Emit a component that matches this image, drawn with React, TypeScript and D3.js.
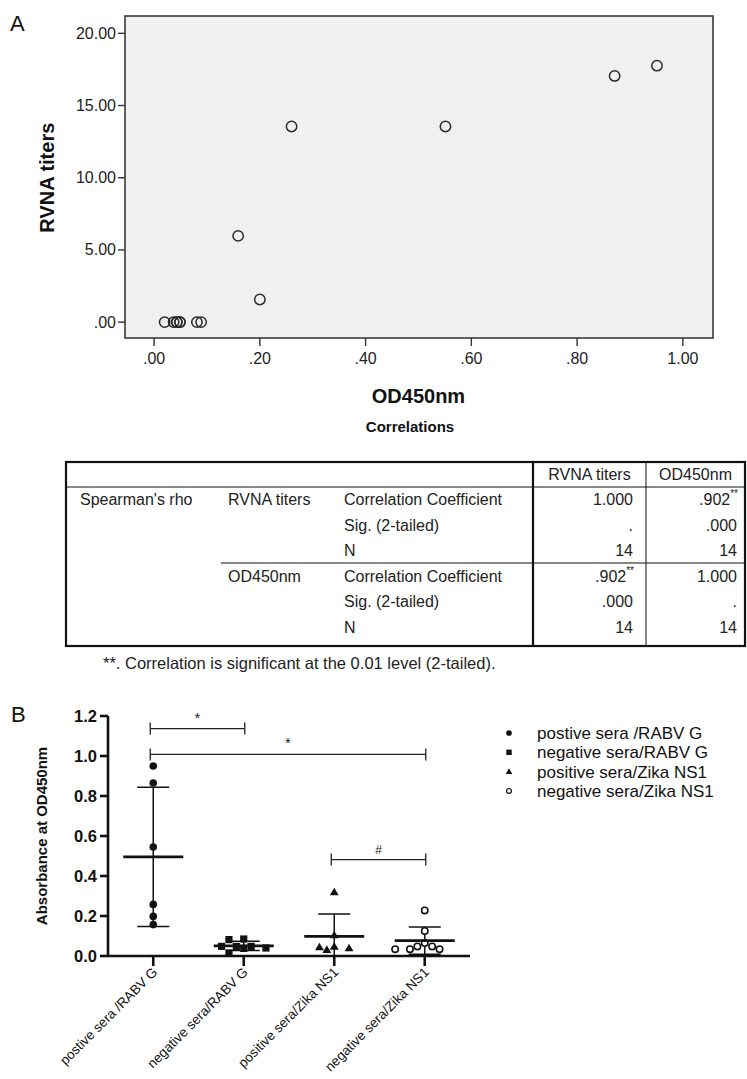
import React from "react";
import * as d3 from "d3";

// ---------- Panel A data ----------
const odValues = [0.02, 0.037, 0.043, 0.043, 0.049, 0.049, 0.081, 0.089, 0.159, 0.2, 0.26, 0.551, 0.871, 0.951];
const rvnaValues = [0, 0, 0, 0, 0, 0, 0, 0, 5.97, 1.57, 13.55, 13.55, 17.05, 17.76];
const scatterXTicks = [0, 0.2, 0.4, 0.6, 0.8, 1.0];
const scatterXTickLabels = [".00", ".20", ".40", ".60", ".80", "1.00"];
const scatterYTicks = [0, 5, 10, 15, 20];
const scatterYTickLabels = [".00", "5.00", "10.00", "15.00", "20.00"];

// ---------- Table data ----------
const tableHeaders = ["RVNA titers", "OD450nm"];
const tableVariables = ["RVNA titers", "OD450nm"];
const tableStats = ["Correlation Coefficient", "Sig. (2-tailed)", "N"];
const tableRVNACol = [["1.000", ""], [".", ""], ["14", ""], [".902", "**"], [".000", ""], ["14", ""]];
const tableODCol = [[".902", "**"], [".000", ""], ["14", ""], ["1.000", ""], [".", ""], ["14", ""]];
const footnote = "**. Correlation is significant at the 0.01 level (2-tailed).";

// ---------- Panel B data ----------
const categories = ["postive sera /RABV G", "negative sera/RABV G", "positive sera/Zika NS1", "negative sera/Zika NS1"];
const legendLabels = ["postive sera /RABV G", "negative sera/RABV G", "positive sera/Zika NS1", "negative sera/Zika NS1"];
const posRabv = [0.95, 0.865, 0.545, 0.258, 0.198, 0.157];
const negRabv = [0.085, 0.082, 0.048, 0.038, 0.04, 0.048, 0.048, 0.015];
const posZika = [0.32, 0.105, 0.045, 0.032, 0.04, 0.048];
const negZika = [0.228, 0.125, 0.048, 0.034, 0.034, 0.034, 0.048, 0.065];
const groupValues = [posRabv, negRabv, posZika, negZika];
const symbolKinds = ["circle", "square", "triangle", "open"];
const bYTicks = [0, 0.2, 0.4, 0.6, 0.8, 1.0, 1.2];
const comparisons = [
  { from: 0, to: 1, y: 1.137, label: "*" },
  { from: 0, to: 3, y: 1.008, label: "*" },
  { from: 2, to: 3, y: 0.482, label: "#" },
];

const FONT = "'Liberation Sans', Arial, Helvetica, sans-serif";

function Symbol({ kind, x, y, s = 1 }: { kind: string; x: number; y: number; s?: number }) {
  if (kind === "circle") return <circle cx={x} cy={y} r={3.8 * s} fill="#111" />;
  if (kind === "square") return <rect x={x - 3.6 * s} y={y - 3.6 * s} width={7.2 * s} height={7.2 * s} fill="#111" />;
  if (kind === "triangle") {
    const p = d3.symbol().type(d3.symbolTriangle).size(34 * s * s)();
    return <path d={p as string} transform={`translate(${x},${y + 0.8 * s})`} fill="#111" />;
  }
  return <circle cx={x} cy={y} r={3.2 * s} fill="#fff" stroke="#111" strokeWidth={1.6 * s} />;
}

function swarm(values: number[], y: (v: number) => number, minDist: number, step: number) {
  const order = values.map((v, i) => i).sort((a, b) => values[b] - values[a]);
  const placed: { x: number; y: number }[] = [];
  const out: number[] = new Array(values.length).fill(0);
  for (const i of order) {
    const py = y(values[i]);
    for (let k = 0; k < 40; k++) {
      const off = k === 0 ? 0 : (k % 2 === 1 ? -1 : 1) * Math.ceil(k / 2) * step;
      if (placed.every((p) => Math.hypot(p.x - off, p.y - py) >= minDist)) {
        out[i] = off;
        placed.push({ x: off, y: py });
        break;
      }
    }
  }
  return out;
}

export default function App() {
  // ---- Panel A scales ----
  const frame = { left: 125, right: 713, top: 16, bottom: 338 };
  const sx = d3.scaleLinear().domain([-0.055, 1.057]).range([frame.left, frame.right]);
  const sy = d3.scaleLinear().domain([-1.1, 21.2]).range([frame.bottom, frame.top]);

  // ---- Table geometry ----
  const tLeft = 66, tRight = 745, tDiv1 = 533, tDiv2 = 646;
  const tTop = 462, tHeadBottom = 487, tBottom = 646;
  const rowY = (i: number) => 499 + i * 25.6;

  // ---- Panel B scales ----
  const bx = d3.scaleBand().domain(categories).range([108, 470]).paddingInner(0).paddingOuter(0);
  const by = d3.scaleLinear().domain([0, 1.2]).range([956, 716]);
  const cx = (i: number) => (bx(categories[i]) as number) + bx.bandwidth() / 2;

  return (
    <svg width={747} height={1079} style={{ position: "absolute", left: 0, top: 0, background: "#fff" }} fontFamily={FONT}>
      {/* ===== Panel A ===== */}
      <text x={10} y={31} fontSize={22} fill="#111">A</text>
      <rect x={frame.left} y={frame.top} width={frame.right - frame.left} height={frame.bottom - frame.top} fill="#f0f0f0" stroke="#3a3a3a" strokeWidth={1.6} />
      {scatterYTicks.map((t, i) => (
        <g key={"sy" + i}>
          <line x1={frame.left - 7} x2={frame.left} y1={sy(t)} y2={sy(t)} stroke="#333" strokeWidth={1.4} />
          <text x={frame.left - 9} y={sy(t) + 5.5} fontSize={16} textAnchor="end" fill="#222">{scatterYTickLabels[i]}</text>
        </g>
      ))}
      {scatterXTicks.map((t, i) => (
        <g key={"sx" + i}>
          <line x1={sx(t)} x2={sx(t)} y1={frame.bottom} y2={frame.bottom + 8} stroke="#333" strokeWidth={1.4} />
          <text x={sx(t)} y={frame.bottom + 26} fontSize={16} textAnchor="middle" fill="#222">{scatterXTickLabels[i]}</text>
        </g>
      ))}
      <text x={(sx(0) + sx(1)) / 2} y={403} fontSize={20} fontWeight="bold" textAnchor="middle" fill="#111">OD450nm</text>
      <text transform={`translate(54,${sy(10)}) rotate(-90)`} fontSize={20} fontWeight="bold" textAnchor="middle" fill="#111">RVNA titers</text>
      {odValues.map((v, i) => (
        <circle key={"pt" + i} cx={sx(v)} cy={sy(rvnaValues[i])} r={5.2} fill="none" stroke="#2a2a2a" strokeWidth={1.5} />
      ))}

      {/* ===== Table ===== */}
      <text x={410} y={432} fontSize={15} fontWeight="bold" textAnchor="middle" fill="#111">Correlations</text>
      <rect x={tLeft} y={tTop} width={tRight - tLeft} height={tBottom - tTop} fill="none" stroke="#111" strokeWidth={2.2} />
      <line x1={tLeft} x2={tRight} y1={tHeadBottom} y2={tHeadBottom} stroke="#111" strokeWidth={1.2} />
      <line x1={tDiv1} x2={tDiv1} y1={tTop} y2={tBottom} stroke="#111" strokeWidth={2.2} />
      <line x1={tDiv2} x2={tDiv2} y1={tTop} y2={tBottom} stroke="#111" strokeWidth={1} />
      <line x1={221} x2={tRight} y1={563} y2={563} stroke="#111" strokeWidth={1.2} />
      <g fontSize={16} fill="#222">
        <text x={(tDiv1 + tDiv2) / 2} y={480} textAnchor="middle">{tableHeaders[0]}</text>
        <text x={(tDiv2 + tRight) / 2} y={480} textAnchor="middle">{tableHeaders[1]}</text>
        <text x={80} y={rowY(0) + 6}>Spearman's rho</text>
        {tableVariables.map((v, vi) => (
          <text key={"tv" + vi} x={228} y={rowY(vi * 3) + 6}>{v}</text>
        ))}
        {tableVariables.map((_, vi) =>
          tableStats.map((s, si) => (
            <text key={"ts" + vi + si} x={344} y={rowY(vi * 3 + si) + 6}>{s}</text>
          ))
        )}
        {tableRVNACol.map((c, i) => (
          <text key={"c1" + i} x={c[1] ? 634 : 633} y={rowY(i) + 6} textAnchor="end">
            {c[0]}
            {c[1] ? <tspan fontSize={10} dy={-8}>{c[1]}</tspan> : null}
          </text>
        ))}
        {tableODCol.map((c, i) => (
          <text key={"c2" + i} x={c[1] ? 738 : 737} y={rowY(i) + 6} textAnchor="end">
            {c[0]}
            {c[1] ? <tspan fontSize={10} dy={-8}>{c[1]}</tspan> : null}
          </text>
        ))}
      </g>
      <text x={103} y={669} fontSize={16.5} fill="#222">{footnote}</text>

      {/* ===== Panel B ===== */}
      <text x={11} y={722} fontSize={22} fill="#111">B</text>
      <text transform={`translate(47,${by(0.6)}) rotate(-90)`} fontSize={15} fontWeight="bold" textAnchor="middle" fill="#111">Absorbance at OD450nm</text>
      <line x1={108} x2={108} y1={by(1.2)} y2={by(0)} stroke="#111" strokeWidth={2.6} />
      <line x1={108} x2={470} y1={by(0)} y2={by(0)} stroke="#111" strokeWidth={2.6} />
      {bYTicks.map((t, i) => (
        <g key={"by" + i}>
          <line x1={100} x2={108} y1={by(t)} y2={by(t)} stroke="#111" strokeWidth={2.6} />
          <text x={97} y={by(t) + 6} fontSize={16.5} fontWeight="bold" textAnchor="end" fill="#111">{d3.format(".1f")(t)}</text>
        </g>
      ))}
      {categories.map((c, i) => (
        <g key={"cat" + i}>
          <line x1={cx(i)} x2={cx(i)} y1={by(0)} y2={by(0) + 10} stroke="#111" strokeWidth={2.6} />
          <text transform={`translate(${cx(i) + 5},${by(0) + 17}) rotate(-45)`} fontSize={13.5} textAnchor="end" fill="#111">{c}</text>
        </g>
      ))}
      {groupValues.map((vals, gi) => {
        const m = d3.mean(vals) as number;
        const sd = d3.deviation(vals) as number;
        const lo = Math.max(0, m - sd);
        const hi = m + sd;
        const offs = swarm(vals, by, 7.6, 7.4);
        const c = cx(gi);
        return (
          <g key={"grp" + gi}>
            <line x1={c} x2={c} y1={by(lo)} y2={by(hi)} stroke="#111" strokeWidth={1.5} />
            <line x1={c - 16} x2={c + 16} y1={by(hi)} y2={by(hi)} stroke="#111" strokeWidth={1.5} />
            {m - sd > 0 ? <line x1={c - 16} x2={c + 16} y1={by(lo)} y2={by(lo)} stroke="#111" strokeWidth={1.5} /> : null}
            {vals.map((v, k) => (
              <Symbol key={k} kind={symbolKinds[gi]} x={c + offs[k]} y={by(v)} />
            ))}
            <line x1={c - 30} x2={c + 30} y1={by(m)} y2={by(m)} stroke="#111" strokeWidth={2.6} />
          </g>
        );
      })}
      {comparisons.map((cmp, i) => {
        const x1 = cx(cmp.from) - 3;
        const x2 = cx(cmp.to) + 1;
        const yy = by(cmp.y);
        return (
          <g key={"cmp" + i} stroke="#222" strokeWidth={1.3}>
            <line x1={x1} x2={x2} y1={yy} y2={yy} />
            <line x1={x1} x2={x1} y1={yy - 6} y2={yy + 6} />
            <line x1={x2} x2={x2} y1={yy - 6} y2={yy + 6} />
            <text x={(x1 + x2) / 2} y={yy - 6} fontSize={cmp.label === "#" ? 12 : 15} textAnchor="middle" fill="#222" stroke="none">{cmp.label}</text>
          </g>
        );
      })}
      {legendLabels.map((l, i) => (
        <g key={"lg" + i}>
          <Symbol kind={symbolKinds[i]} x={509} y={733 + i * 19.3} s={0.75} />
          <text x={537} y={733 + i * 19.3 + 6} fontSize={17} fill="#111">{l}</text>
        </g>
      ))}
    </svg>
  );
}
